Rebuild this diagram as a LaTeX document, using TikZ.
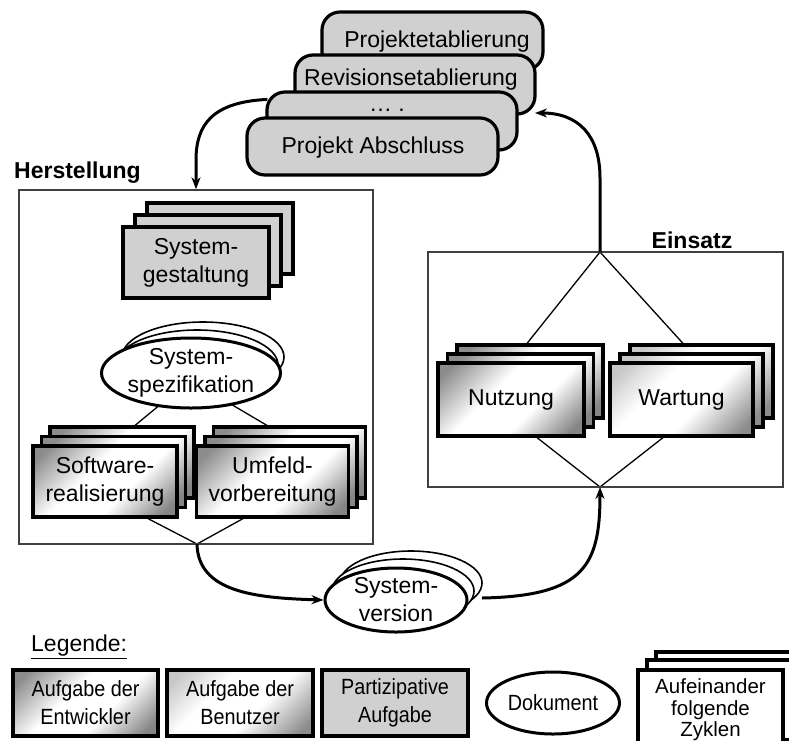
\documentclass[tikz,border=0pt]{standalone}
\usepackage{fontspec}
\setmainfont{Liberation Sans}
\newfontfamily\legfont[FakeStretch=0.9]{Liberation Sans}
\usetikzlibrary{arrows.meta,calc,shapes.geometric,backgrounds}
\definecolor{boxgray}{RGB}{208,208,208}
\pgfdeclareverticalshading{devshade}{100bp}{color(0bp)=(black!48); color(20bp)=(black!48); color(40bp)=(white); color(58bp)=(white); color(80bp)=(black!45); color(100bp)=(black!45)}
\pgfdeclareverticalshading{usershade}{100bp}{color(0bp)=(black!45); color(20bp)=(black!45); color(42bp)=(white); color(62bp)=(white); color(80bp)=(black!22); color(100bp)=(black!22)}
\newcommand\tstack[9]{%
  \node[#2, minimum width=#5pt, minimum height=#6pt] (#1b) at (#3+2*#7, #4-2*#8) {};
  \node[#2, minimum width=#5pt, minimum height=#6pt] (#1m) at (#3+#7, #4-#8) {};
  \node[#2, minimum width=#5pt, minimum height=#6pt] (#1) at (#3, #4) {#9};
}
\tikzset{
  task/.style={rectangle, draw=black, line width=3.2pt, inner sep=0pt, align=center, font=\fontsize{23}{28}\selectfont},
  partask/.style={task, fill=boxgray},
  devtask/.style={task, shade, shading=devshade, shading angle=45},
  usertask/.style={task, shade, shading=usershade, shading angle=45},
  plaintask/.style={task, fill=white},
  phase/.style={rectangle, rounded corners=18pt, draw=black, line width=3.2pt, fill=boxgray, inner sep=0pt},
  doc/.style={ellipse, draw=black, line width=3pt, fill=white, inner sep=0pt, align=center, font=\fontsize{23}{28}\selectfont},
  docback/.style={ellipse, draw=black, line width=1.6pt, fill=white, inner sep=0pt},
  frame/.style={rectangle, draw=black!75, line width=1.5pt, inner sep=0pt},
  thinline/.style={draw=black, line width=1.3pt},
  flow/.style={draw=black, line width=3pt, -{Stealth[length=12pt,width=9pt]}},
  lbl/.style={inner sep=0pt, font=\fontsize{23}{28}\selectfont},
  head/.style={inner sep=0pt, font=\bfseries\fontsize{23}{28}\selectfont},
  leg/.style={font=\legfont\fontsize{22}{28}\selectfont},
}
\begin{document}
\begin{tikzpicture}[x=1pt,y=-1pt]
\useasboundingbox (0,0) rectangle (789,740);

% phase stack at top
\node[phase, minimum width=221pt, minimum height=58pt] (p1) at (432.5,41) {};
\node[phase, minimum width=240pt, minimum height=59pt] (p2) at (415,84.5) {};
\node[phase, minimum width=250pt, minimum height=58pt] (p3) at (392,121) {};
\node[phase, minimum width=251pt, minimum height=57pt] (p4) at (372.5,146.5) {};
\node[lbl] (p1t) at (437,42) {Projektetablierung};
\node[lbl] (p2t) at (411,80) {Revisionsetablierung};
\node[lbl] (p3t) at (387,110) {\dots\ .};
\node[lbl] (p4t) at (373,148) {Projekt Abschluss};

% frames
\node[frame, minimum width=354pt, minimum height=354pt] (her) at (196,367) {};
\node[frame, minimum width=355pt, minimum height=235pt] (ein) at (605.5,369.5) {};
\node[head, anchor=west] (herl) at (14,173) {Herstellung};
\node[head] (einl) at (692,240) {Einsatz};
\coordinate (ev1) at (600,252);
\coordinate (ev2) at (600,487);
\coordinate (hv) at (197,544);

% Herstellung content
\tstack{sg}{partask}{196}{262.5}{146}{71}{12}{12}{System-\\gestaltung}
\tstack{sw}{devtask}{105}{481.5}{144}{71}{8.5}{9.5}{Software-\\realisierung}
\tstack{uv}{devtask}{272.5}{481.5}{152}{71}{8.5}{9.5}{Umfeld-\\vorbereitung}
\node[docback, minimum width=162pt, minimum height=70pt] (ss2) at (203,357) {};
\node[docback, minimum width=162pt, minimum height=70pt] (ss1) at (197,365) {};
\node[doc, minimum width=162pt, minimum height=70pt] (ss) at (191,373) {System-\\spezifikation};

% Einsatz content
\tstack{nu}{devtask}{511}{399.5}{146}{73}{9.5}{9}{Nutzung}
\tstack{wa}{usertask}{681.5}{399.5}{143}{73}{10}{9}{Wartung}

% system version
\node[docback, minimum width=142pt, minimum height=64pt] (sv2) at (411,583) {};
\node[docback, minimum width=142pt, minimum height=64pt] (sv1) at (403,591) {};
\node[doc, minimum width=142pt, minimum height=64pt] (sv) at (396,600) {System-\\version};

% thin structure lines behind the tasks
\begin{pgfonlayer}{background}
\draw[thinline] ($(ss.center)+(-1,7)$) -- ($(swb.north)+(13,0)$);
\draw[thinline] ($(ss.center)+(-1,7)$) -- ($(uvb.north)+(-22.5,0)$);
\draw[thinline] ($(sw.south)+(43,0)$) -- (hv) -- ($(uv.south)+(-29.5,0)$);
\draw[thinline] (ev1) -- ($(nub.north)+(-3,0)$);
\draw[thinline] (ev1) -- ($(wab.north)+(-18.5,0)$);
\draw[thinline] ($(nu.south)+(26,0)$) -- (ev2) -- ($(wa.south)+(-18.5,0)$);
\end{pgfonlayer}

% flows
\coordinate (a1) at ($(p3.north west)+(2,9)$);
\coordinate (a4) at (535,113);
\coordinate (svr) at (482,598);
\draw[flow] (a1) .. controls (212,102) and (196,125) .. (196,160) -- (her.north);
\draw[flow] (hv) .. controls (198,592) and (255,598) .. (sv.west);
\draw[flow] (svr) .. controls (585,596) and (600,565) .. (ev2);
\draw[flow] (ev1) -- (600,178) .. controls (600,135) and (578,113) .. (a4);

% legend
\node[lbl, anchor=west] (legt) at (31,647) {\underline{Legende:}};
\node[devtask, leg, minimum width=145pt, minimum height=66pt] (l1) at (85.5,703) {Aufgabe der\\Entwickler};
\node[usertask, leg, minimum width=146pt, minimum height=66pt] (l2) at (240,703) {Aufgabe der\\Benutzer};
\node[partask, leg, minimum width=146pt, minimum height=66pt] (l3) at (395,703) {Partizipative\\Aufgabe};
\node[doc, leg, minimum width=133pt, minimum height=62pt] (l4) at (553,703) {Dokument};
\node[plaintask, minimum width=145pt, minimum height=80pt] (l5b) at (728.5,692) {};
\node[plaintask, minimum width=145pt, minimum height=80pt] (l5m) at (719.5,700) {};
\node[plaintask, minimum width=145pt, minimum height=80pt, font=\fontsize{20.5}{21.5}\selectfont] (l5) at (710.5,710) {Aufeinander\\folgende\\Zyklen};
\end{tikzpicture}
\end{document}
